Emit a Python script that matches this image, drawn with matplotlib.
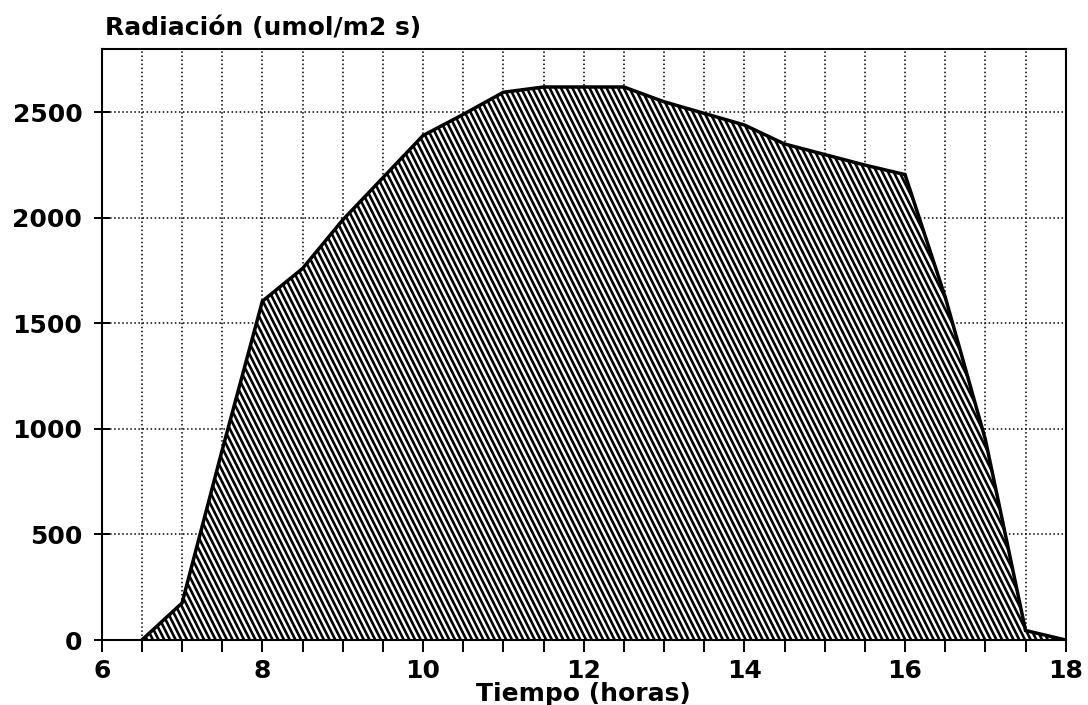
import numpy as np
import matplotlib
matplotlib.use('Agg')
import matplotlib.pyplot as plt
from matplotlib.collections import LineCollection
from matplotlib.ticker import MultipleLocator

# radiation over the day (hour, umol/m2 s)
horas = [6.5, 7.0, 7.5, 8.0, 8.5, 9.0, 9.5, 10.0, 10.5, 11.0, 11.5, 12.0,
         12.5, 13.0, 13.5, 14.0, 14.5, 15.0, 15.5, 16.0, 16.5, 17.0, 17.5, 18.0]
radiacion = [0, 175, 900, 1605, 1760, 1990, 2190, 2390, 2490, 2595, 2620, 2620,
             2620, 2550, 2495, 2440, 2350, 2300, 2250, 2205, 1625, 950, 45, 0]

titulo = 'Radiación (umol/m2 s)'
etiqueta_x = 'Tiempo (horas)'
xticks = [6, 8, 10, 12, 14, 16, 18]
yticks = [0, 500, 1000, 1500, 2000, 2500]

plt.rcParams['font.family'] = 'DejaVu Sans'
plt.rcParams['font.weight'] = 'bold'
plt.rcParams['axes.labelweight'] = 'bold'
plt.rcParams['font.size'] = 18

fig = plt.figure(figsize=(10.88, 7.05), dpi=100)
ax = fig.add_axes([101.7 / 1088, 1 - 640 / 705, 964 / 1088, 591 / 705])

ax.set_xlim(6, 18)
ax.set_ylim(0, 2800)

# grid, dotted, behind the filled area
ax.xaxis.set_major_locator(matplotlib.ticker.FixedLocator(xticks))
ax.xaxis.set_minor_locator(MultipleLocator(0.5))
ax.yaxis.set_major_locator(matplotlib.ticker.FixedLocator(yticks))
ax.grid(axis='x', which='both', linestyle=':', color='black', lw=1.1)
ax.grid(axis='y', which='major', linestyle=':', color='black', lw=1.1)
ax.set_axisbelow(True)

# white area under the curve
area = ax.fill_between(horas, radiacion, 0, facecolor='white', edgecolor='none', zorder=2)

# steep diagonal hatching clipped to the area
w_px, h_px = 964.0, 591.0
step = 5.7
segs = []
x0 = 0.0
while x0 < w_px + h_px / 2 + step:
    segs.append([(x0 / w_px, 0.0), ((x0 - h_px / 2) / w_px, 1.0)])
    x0 += step
lc = LineCollection(segs, colors='black', linewidths=1.9, transform=ax.transAxes, zorder=3)
lc.set_clip_path(area.get_paths()[0], ax.transData)
ax.add_collection(lc)

ax.plot(horas, radiacion, color='black', lw=2.5, zorder=4, solid_joinstyle='miter')

for s in ax.spines.values():
    s.set_linewidth(1.5)
    s.set_zorder(5)

ax.tick_params(axis='x', which='both', direction='out', length=8.6, width=1.4, pad=5)
ax.tick_params(axis='y', which='major', direction='inout', length=12, width=1.4, pad=8)
ax.set_xticklabels([str(t) for t in xticks])
ax.set_yticklabels([str(t) for t in yticks])

ax.set_xlabel(etiqueta_x, fontweight='bold')
ax.xaxis.set_label_coords(0.5, -54 / 591)
ax.xaxis.label.set_va('center')

fig.text(105 / 1088, 1 - 28 / 705, titulo, ha='left', va='center', fontsize=18, fontweight='bold')

fig.savefig('out.png', dpi=100)
